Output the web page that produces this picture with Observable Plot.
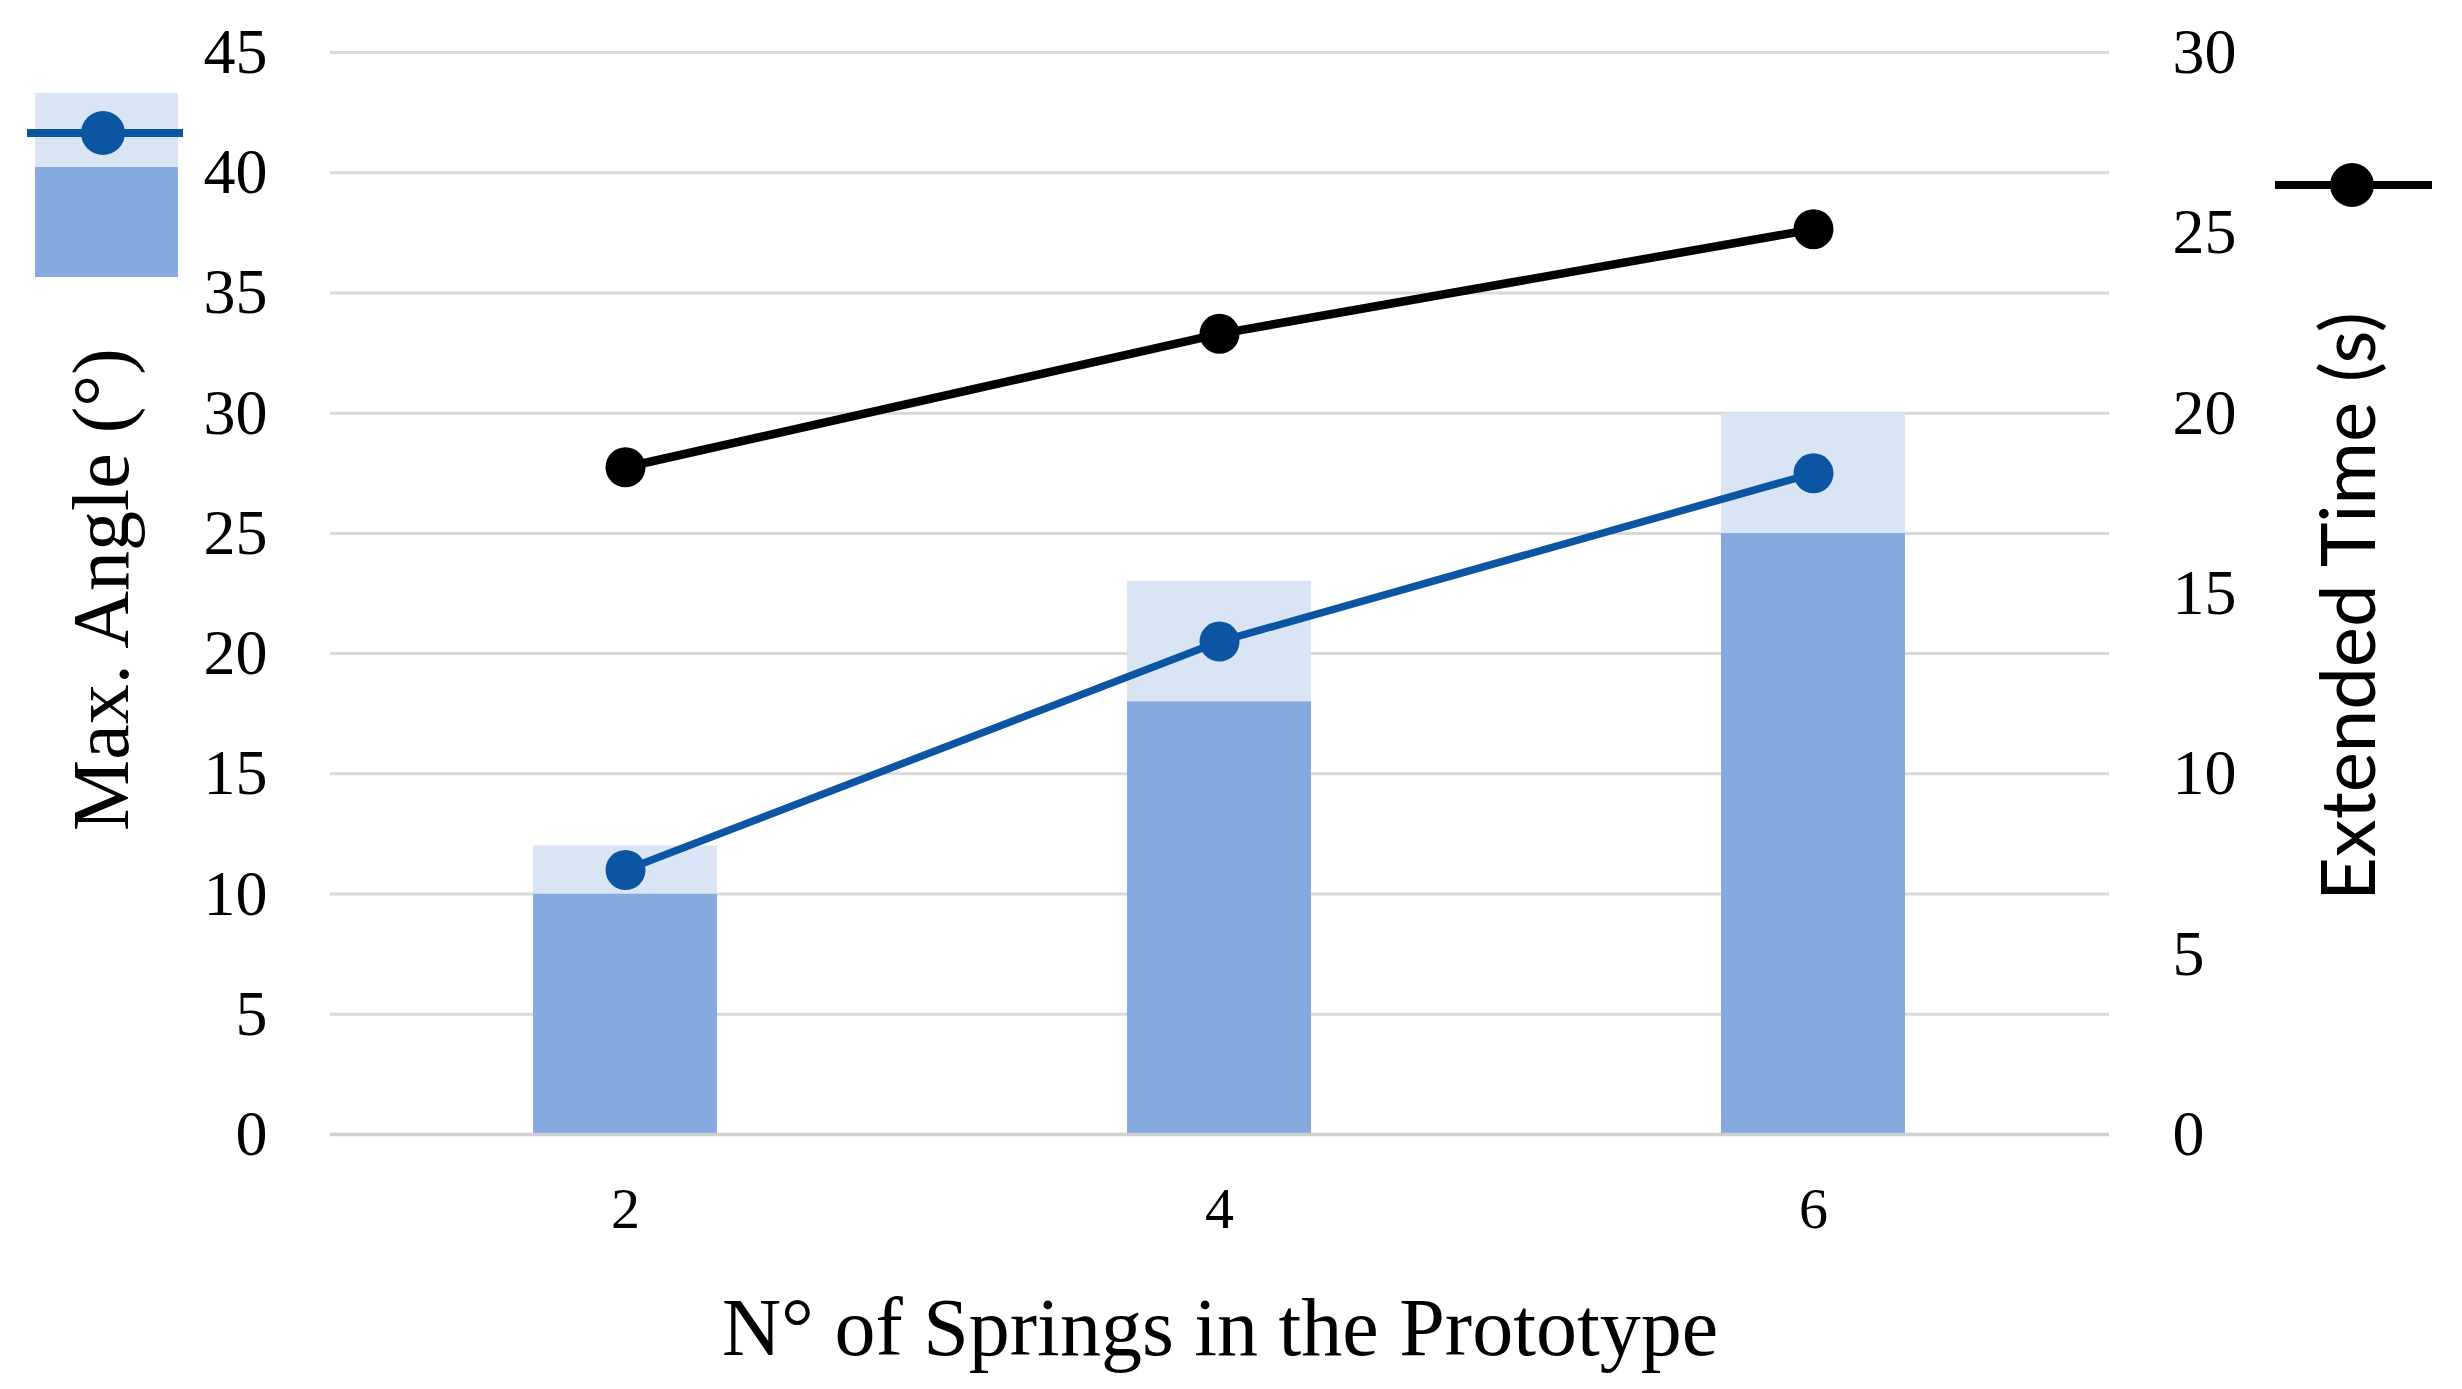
<!DOCTYPE html>
<html>
<head>
<meta charset="utf-8">
<script src="https://cdn.jsdelivr.net/npm/d3@7"></script>
<script src="https://cdn.jsdelivr.net/npm/@observablehq/plot@0.6"></script>
<style>
  html, body { margin: 0; padding: 0; background: #fff; }
  #wrap { position: relative; width: 2462px; height: 1389px; }
  #legend { position: absolute; left: 0; top: 0; pointer-events: none; }
</style>
</head>
<body>
<div id="wrap"></div>
<script>
// ---- data ----
const springs = ["2", "4", "6"];
const angleLow = [10, 18, 25];      // dark part of bar (°)
const angleHigh = [12, 23, 30];     // top of light part (°)
const angleMean = [11, 20.5, 27.5]; // blue line (°)
const extTime = [18.5, 22.2, 25.1]; // black line (s), right axis
const leftTicks = [0, 5, 10, 15, 20, 25, 30, 35, 40, 45];
const rightTicks = [0, 5, 10, 15, 20, 25, 30];

const k = 45 / 30; // right axis mapped onto left scale
const rows = springs.map((s, i) => ({
  s, lo: angleLow[i], hi: angleHigh[i], mean: angleMean[i], t: extTime[i]
}));

const serif = "Liberation Serif, Times New Roman, serif";
const sans = "Lato, Open Sans, sans-serif";

const chart = Plot.plot({
  width: 2462,
  height: 1389,
  marginLeft: 330,
  marginRight: 353,
  marginTop: 52,
  marginBottom: 255,
  style: { fontFamily: serif, background: "#fff", color: "#000" },
  x: { type: "band", domain: springs, paddingInner: 0.69, paddingOuter: 0.34 },
  y: { domain: [0, 45] },
  marks: [
    Plot.ruleY(leftTicks.filter(d => d > 0), { stroke: "#d9d9d9", strokeWidth: 3 }),
    Plot.barY(rows, { x: "s", y1: 0, y2: "lo", fill: "#84aadf" }),
    Plot.barY(rows, { x: "s", y1: "lo", y2: "hi", fill: "#d9e5f5" }),
    Plot.ruleY([0], { stroke: "#d0d0d0", strokeWidth: 3.5 }),
    Plot.line(rows, { x: "s", y: "mean", stroke: "#0b55a3", strokeWidth: 7.5 }),
    Plot.dot(rows, { x: "s", y: "mean", r: 20, fill: "#0b55a3", stroke: "none" }),
    Plot.line(rows, { x: "s", y: d => d.t * k, stroke: "#000", strokeWidth: 8.5 }),
    Plot.dot(rows, { x: "s", y: d => d.t * k, r: 20, fill: "#000", stroke: "none" }),
    Plot.axisY({ ticks: leftTicks, tickSize: 0, tickPadding: 63, fontSize: 64, fontFamily: serif, label: null }),
    Plot.axisY({ anchor: "right", ticks: rightTicks.map(d => d * k), tickFormat: d => Math.round(d / k), tickSize: 0, tickPadding: 63, fontSize: 64, fontFamily: serif, label: null }),
    Plot.axisX({ tickSize: 0, tickPadding: 52, fontSize: 58, fontFamily: serif, label: null }),
    Plot.text(["N° of Springs in the Prototype"], { frameAnchor: "bottom", dy: 220, textAnchor: "middle", fontSize: 82, fontFamily: serif, fill: "#000" }),
    Plot.text(["Max. Angle (°)"], { frameAnchor: "left", dx: -228, dy: -4, rotate: -90, textAnchor: "middle", fontSize: 80, fontFamily: serif, fill: "#000" }),
    Plot.text(["Extended Time (s)"], { frameAnchor: "right", dx: 241, dy: 13, rotate: -90, textAnchor: "middle", fontSize: 76, fontFamily: sans, fill: "#000" })
  ]
});

const wrap = document.getElementById("wrap");
wrap.appendChild(chart);

// ---- legend glyphs (overlay) ----
const ns = "http://www.w3.org/2000/svg";
const leg = document.createElementNS(ns, "svg");
leg.setAttribute("id", "legend");
leg.setAttribute("width", 2462);
leg.setAttribute("height", 1389);
leg.innerHTML = `
  <rect x="35" y="93" width="143" height="74" fill="#d9e5f5"/>
  <rect x="35" y="167" width="143" height="110" fill="#84aadf"/>
  <line x1="27" y1="133" x2="183" y2="133" stroke="#0b55a3" stroke-width="8"/>
  <circle cx="103" cy="133" r="22" fill="#0b55a3"/>
  <line x1="2275" y1="185" x2="2432" y2="185" stroke="#000" stroke-width="8"/>
  <circle cx="2352" cy="185" r="22" fill="#000"/>
`;
wrap.appendChild(leg);
</script>
</body>
</html>
